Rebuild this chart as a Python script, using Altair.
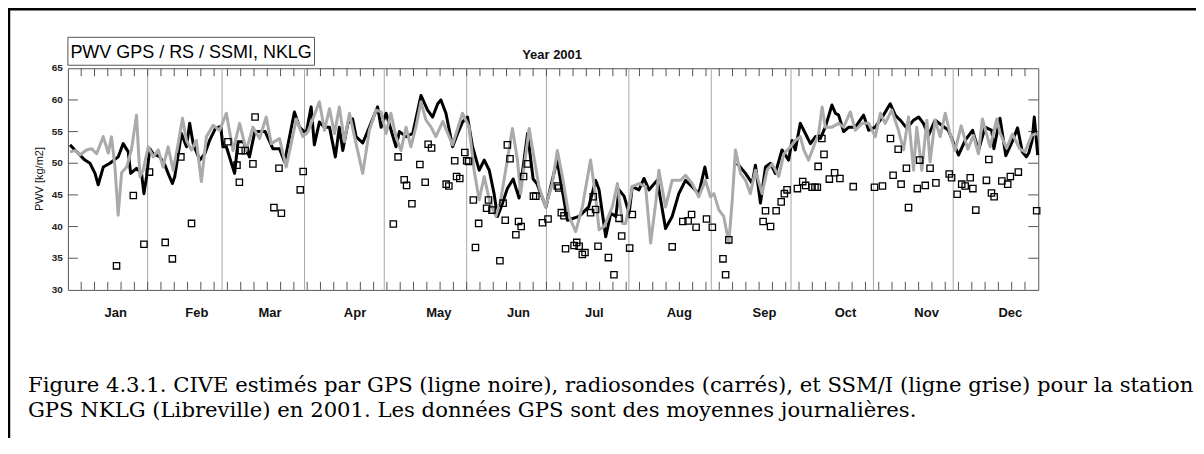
import altair as alt
import pandas as pd

# ---------------- data ----------------
gps_day = [0.8, 2.6, 4.5, 6.4, 8.3, 10.2, 11.4, 13.3, 15.8, 18.9, 20.8, 22.7, 23.6, 25.8, 27.7, 28.6,
           29.6, 30.8, 32.1, 34.6, 36.5, 37.7, 39.3, 40.2, 42.7, 44.6, 45.8, 47.1, 49.6, 51.5, 53.3,
           55.5, 57.5, 58.3, 59.6, 62.7, 64.0, 66.0, 68.3, 70.3, 71.5, 74.2, 77.1, 79.6, 81.5, 85.2,
           87.1, 89.6, 91.5, 92.7, 94.6, 96.5, 98.4, 100.6, 102.1, 103.4, 105.3, 107.1, 108.4, 110.9,
           113.4, 116.5, 117.8, 119.7, 123.4, 124.7, 127.2, 129.7, 132.8, 135.3, 137.2, 139.1, 140.3,
           142.2, 144.7, 146.6, 148.4, 150.3, 152.2, 154.7, 156.6, 158.5, 160.3, 161.6, 163.5, 165.3,
           167.5, 169.7, 172.9, 175.0, 176.4, 179.8, 184.0, 187.9, 192.3, 195.9, 198.5, 199.8, 202.3,
           204.2, 206.1, 207.3, 209.2, 211.1, 212.3, 214.8, 216.7, 218.6, 221.7, 224.8, 227.3, 229.8,
           232.3, 234.8, 237.3, 239.6, 240.5,
           251.7, 254.9, 257.4, 258.6, 260.5, 262.4, 264.3, 266.1, 268.6, 271.1, 272.4, 273.6, 275.5,
           277.4, 279.3, 281.2, 283.0, 284.9, 287.4, 288.7, 289.9, 291.8, 293.7, 296.2, 299.3, 301.2,
           303.7, 306.8, 309.3, 311.2, 313.1, 315.6, 318.1, 320.0, 321.8, 323.7, 326.2, 328.7, 331.2,
           333.7, 335.0, 337.5, 340.3, 342.5, 345.0, 347.5, 348.3, 350.6, 352.8, 355.0, 357.2, 359.0,
           360.5, 361.5, 362.7, 363.5, 364.8]
gps_val = [52.9, 52.1, 51.3, 50.5, 50.0, 48.4, 46.6, 49.4, 50.0, 51.0, 53.1, 51.8, 48.4, 49.2, 48.4, 45.2,
           47.9, 52.3, 51.5, 51.0, 49.7, 48.4, 46.8, 47.9, 54.7, 52.6, 56.3, 53.1, 50.5, 51.5, 53.6,
           55.5, 55.8, 52.6, 52.6, 48.4, 53.4, 53.4, 51.0, 55.0, 55.0, 55.0, 52.3, 52.3, 50.2, 58.1,
           55.7, 54.7, 58.9, 52.9, 56.5, 55.7, 55.7, 51.0, 55.7, 52.0, 56.3, 57.0, 54.2, 53.2,
           55.7, 58.9, 55.7, 57.9, 52.6, 55.0, 54.2, 54.7, 60.7, 58.4, 57.3, 59.4, 60.0,
           57.9, 52.6, 54.7, 56.5, 57.3, 52.6, 48.9, 50.5, 48.9, 45.2, 41.6, 43.7, 46.0,
           47.5, 44.5, 54.7, 47.5, 46.8, 43.1, 50.5, 41.0, 41.6, 43.1, 47.3, 45.8, 38.4,
           42.1, 41.6, 45.8, 44.8, 42.1, 46.3, 45.8, 47.6, 45.8, 47.3, 39.7, 41.6, 45.2,
           47.3, 46.3, 45.2, 49.4, 47.5,
           50.0, 48.4, 46.8, 49.7, 43.7, 49.4, 50.0, 48.4, 52.1, 50.5, 53.6, 52.1, 56.3,
           54.7, 53.1, 54.2, 53.9, 55.7, 59.2, 57.9, 57.6, 55.0, 55.7, 55.7, 57.6, 55.2,
           55.7, 57.6, 59.4, 57.6, 56.8, 55.5, 56.8, 57.3, 56.3, 54.4, 56.8, 56.0, 55.2,
           52.6, 51.3, 53.6, 55.2, 52.0, 55.7, 55.2, 52.3, 57.1, 51.2, 53.2, 55.6, 51.8,
           51.0, 51.7, 53.6, 57.3, 51.3]

ssmi_day = [0.8, 2.7, 4.5, 7.0, 8.9, 10.8, 13.3, 15.2, 16.4, 17.7, 18.9, 20.2, 22.1, 23.9, 25.8, 27.1,
            28.3, 30.2, 32.1, 34.0, 35.8, 37.7, 39.6, 41.5, 43.1, 44.6, 46.5, 48.3, 50.2, 52.1, 54.6,
            57.1, 59.6, 62.1, 64.6, 67.1, 69.6, 72.1, 74.6, 76.5, 79.6, 82.1, 84.0, 85.9, 88.4, 90.3,
            92.7, 94.6, 96.5, 98.4, 100.3, 102.1, 104.0, 105.9, 107.8, 110.9, 113.4, 115.9, 117.8,
            119.7, 121.5, 123.4, 125.3, 127.2, 129.0, 130.9, 132.8, 134.7, 136.6, 138.4, 141.0, 144.7,
            148.4, 150.9, 152.8, 154.7, 156.6, 158.5, 161.0, 162.8, 165.3, 167.2, 169.1, 170.3, 173.5,
            175.3, 177.2, 179.7, 182.2, 184.1, 186.0, 188.5, 191.0, 193.5, 196.6, 198.5, 199.8, 201.7,
            204.8, 206.7, 208.6, 209.8, 212.3, 214.8, 217.3, 219.2, 221.1, 222.3, 224.8, 227.3, 230.5,
            232.3, 234.8, 237.3, 239.8, 241.7, 243.0, 244.9, 246.7, 248.6, 249.9, 251.1, 253.0, 254.9,
            256.7, 258.6, 261.1, 263.0, 264.9, 267.4, 269.3, 271.8, 273.6, 275.5, 276.8, 278.6, 280.5,
            282.4, 283.7, 284.9, 287.4, 289.9, 291.8, 294.3, 296.2, 298.7, 301.2, 303.7, 305.6, 307.4,
            309.9, 312.4, 314.3, 316.2, 318.1, 319.3, 321.2, 323.1, 324.3, 326.2, 328.1, 330.0, 331.8,
            333.7, 336.0, 338.5, 340.6, 342.5, 344.0, 346.9, 349.4, 350.6, 353.1, 355.3, 358.0, 360.0,
            362.5, 364.4]
ssmi_val = [51.8, 52.0, 51.3, 52.1, 52.3, 51.5, 54.2, 51.6, 54.2, 49.4, 41.8, 48.5, 49.4, 52.1, 57.6, 47.9,
            48.9, 52.6, 51.0, 52.1, 49.4, 52.6, 48.9, 53.1, 57.1, 53.6, 52.1, 53.6, 47.1, 54.2, 56.0,
            55.2, 57.9, 52.0, 56.3, 52.0, 55.7, 53.9, 57.3, 53.1, 53.9, 49.4, 53.1, 57.0, 54.2, 55.0,
            57.6, 59.7, 55.2, 58.6, 54.7, 58.9, 53.4, 57.9, 54.2, 48.4, 55.2, 58.4, 58.1,
            54.7, 57.9, 54.2, 52.0, 55.7, 52.6, 55.7, 59.7, 56.8, 55.7, 54.2, 56.6, 52.9,
            57.9, 55.7, 48.9, 44.2, 47.9, 44.2, 41.6, 44.2, 50.5, 55.5, 50.5, 45.2, 55.5,
            51.0, 46.3, 43.1, 46.8, 52.0, 47.9, 41.6, 39.2, 43.1, 50.5, 44.7, 39.5, 40.0,
            43.1, 46.8, 40.5, 40.5, 46.3, 46.8, 46.3, 37.4, 43.7, 48.9, 43.1, 47.3, 47.3,
            48.1, 46.8, 44.7, 47.3, 44.7, 45.2, 42.6, 41.6, 37.4, 44.2, 52.1, 48.4, 47.3,
            45.2, 48.9, 45.2, 48.9, 49.9, 47.9, 51.5, 52.6, 53.6, 54.2, 52.1, 50.5, 52.6,
            54.7, 58.9, 55.7, 55.7, 56.3, 55.7, 58.1, 55.2, 56.3, 56.3, 54.2, 57.9, 56.3,
            58.4, 55.2, 52.1, 57.3, 48.9, 55.7, 48.9, 56.8, 50.2, 56.8, 54.2, 57.9, 54.7,
            52.0, 55.9, 52.2, 54.4, 51.5, 57.0, 52.6, 57.0, 54.8, 52.4, 54.6, 52.3, 51.8,
            54.4, 54.7]

rs_day = [18.3, 24.6, 28.6, 30.7, 36.6, 39.3, 42.5, 46.5, 60.2, 63.6, 64.5, 65.2, 66.7, 69.6, 70.4,
          77.5, 79.4, 80.3, 87.4, 88.5, 122.4, 124.2, 126.5, 127.4, 129.4, 132.4, 134.4, 135.5, 136.8,
          142.3, 143.3, 145.5, 146.2, 147.4, 149.3, 150.0, 150.7, 152.5, 153.3, 154.5, 157.5, 158.2,
          159.5, 162.5, 163.7, 164.5, 165.3, 166.3, 168.5, 169.5, 170.5, 171.4, 172.8, 175.1, 176.0,
          178.5, 180.6, 184.1, 184.6, 185.6, 186.6, 187.2, 190.4, 191.4, 192.3, 193.5, 194.5, 196.6,
          197.6, 198.5, 199.4, 203.3, 205.4, 207.3, 208.3, 211.3, 212.3, 227.3, 231.3, 233.3, 234.6,
          236.3, 240.2, 242.4, 246.4, 247.4, 248.6, 261.5, 262.4, 264.3, 266.4, 268.3, 269.5, 270.5,
          274.4, 276.4, 277.5, 279.9, 281.0, 281.9, 282.2, 283.6, 284.4, 286.4, 288.4, 290.4, 295.4,
          303.4, 306.4, 309.4, 310.4, 312.3, 313.4, 315.4, 316.2, 319.5, 320.4, 322.5, 324.3, 326.5,
          331.5, 332.4, 334.5, 336.2, 337.5, 339.4, 340.4, 341.5, 345.5, 346.4, 347.4, 348.4, 351.3,
          353.5, 354.5, 357.5, 364.4]
rs_val = [33.8, 44.9, 37.2, 48.6, 37.5, 34.9, 51.0, 40.5, 53.4, 49.7, 47.0, 52.0, 52.0, 49.9, 57.3,
          43.0, 49.2, 42.1, 45.8, 48.7, 40.4, 51.0, 47.4, 46.5, 43.6, 49.8, 47.0, 53.0, 52.4,
          46.7, 46.4, 50.4, 47.9, 47.6, 51.7, 50.4, 50.3, 44.2, 36.7, 40.5, 42.9, 44.2,
          42.6, 34.6, 43.7, 41.0, 52.9, 50.7, 38.7, 40.8, 40.0, 47.9, 49.9, 44.8, 44.8,
          40.6, 41.2, 46.4, 46.1, 42.2, 41.7, 36.5, 37.0, 37.5, 36.9, 35.6, 35.9, 42.2,
          44.7, 42.7, 36.9, 35.1, 32.4, 41.3, 38.5, 36.6, 41.9, 36.8, 40.8, 40.9, 41.9,
          39.9, 41.2, 39.9, 34.9, 32.4, 37.9, 40.8, 42.5, 40.0, 42.5, 43.9, 45.2, 45.8,
          46.0, 47.1, 46.5, 46.2, 46.2, 46.2, 49.5, 53.9, 51.4, 47.5, 48.5, 47.6, 46.3,
          46.2, 46.4, 53.9, 48.1, 52.2, 46.7, 49.2, 43.0, 46.0, 50.5, 46.5, 49.2, 46.9,
          48.3, 47.7, 45.1, 46.7, 46.4, 47.7, 46.0, 42.6, 47.3, 50.6, 45.3, 44.7, 47.2,
          46.7, 47.9, 48.6, 42.5]

month_names = ["Jan", "Feb", "Mar", "Apr", "May", "Jun", "Jul", "Aug", "Sep", "Oct", "Nov", "Dec"]
month_label_day = [18, 48.5, 76, 108, 139.5, 169.5, 198, 230, 262, 292.5, 323, 354.5]
month_line_day = [30, 58, 89, 119, 150, 180, 211, 242, 272, 303, 333]
y_label_values = [30, 35, 40, 45, 50, 55, 60, 65]
y_tick_values = [35, 40, 45, 50, 55, 60]
minor_tick_days = list(range(5, 365, 5))
gps_gap_start = 245  # GPS series has no data between ~240 and ~251

caption1 = ("Figure 4.3.1. CIVE estimés par GPS (ligne noire), radiosondes (carrés), "
            "et SSM/I (ligne grise) pour la station")
caption2 = "GPS NKLG (Libreville) en 2001. Les données GPS sont des moyennes journalières."

# ---------------- tables ----------------
gps_df = pd.DataFrame({"day": gps_day, "v": gps_val,
                       "seg": [0 if d < gps_gap_start else 1 for d in gps_day]})
ssmi_df = pd.DataFrame({"day": ssmi_day, "v": ssmi_val})
rs_df = pd.DataFrame({"day": rs_day, "v": rs_val})
mlab_df = pd.DataFrame({"day": month_label_day, "m": month_names})
mline_df = pd.DataFrame({"day": month_line_day})
ylab_df = pd.DataFrame({"v": y_label_values})
ytick_df = pd.DataFrame({"v": y_tick_values})
minor_df = pd.DataFrame({"day": minor_tick_days})

W, H = 972, 222
SANS = "Liberation Sans"
SERIF = "DejaVu Serif"
xs = alt.Scale(domain=[0, 365], nice=False, zero=False)
ys = alt.Scale(domain=[30, 65], nice=False, zero=False)
X = alt.X("day:Q", scale=xs, axis=None)
Y = alt.Y("v:Q", scale=ys, axis=None)
TICK = "#555555"

month_lines = alt.Chart(mline_df).mark_rule(color="#a8a8a8", strokeWidth=1).encode(x=X)
minor_bottom = alt.Chart(minor_df).mark_rule(color=TICK, strokeWidth=1).encode(
    x=X, y=alt.value(H), y2=alt.value(H - 8))
minor_top = alt.Chart(minor_df).mark_rule(color=TICK, strokeWidth=1).encode(
    x=X, y=alt.value(0), y2=alt.value(8))
ytick_left = alt.Chart(ytick_df).mark_rule(color=TICK, strokeWidth=1).encode(
    y=Y, x=alt.value(0), x2=alt.value(10))
ytick_right = alt.Chart(ytick_df).mark_rule(color=TICK, strokeWidth=1).encode(
    y=Y, x=alt.value(W - 10), x2=alt.value(W))

gps = alt.Chart(gps_df).mark_line(color="black", strokeWidth=3, strokeJoin="round").encode(
    x=X, y=Y, detail="seg:N", order="day:Q")
ssmi = alt.Chart(ssmi_df).mark_line(color="#aaaaaa", strokeWidth=3, strokeJoin="round").encode(
    x=X, y=Y, order="day:Q")
rs = alt.Chart(rs_df).mark_point(shape="square", filled=False, color="black", size=40,
                                 strokeWidth=1.3, opacity=1).encode(x=X, y=Y)

ylabels = alt.Chart(ylab_df).mark_text(align="right", baseline="middle", font=SANS,
                                       fontSize=10, fontWeight="bold", color="#222").encode(
    y=Y, x=alt.value(-5), text=alt.Text("v:Q", format="d"))
mlabels = alt.Chart(mlab_df).mark_text(align="center", baseline="alphabetic", font=SANS,
                                       fontSize=13, fontWeight="bold", color="#111").encode(
    x=X, y=alt.value(249), text="m:N")

title = alt.Chart(pd.DataFrame({"t": ["Year 2001"]})).mark_text(
    align="center", baseline="alphabetic", font=SANS, fontSize=13, fontWeight="bold",
    color="#111").encode(x=alt.value(W / 2 - 1), y=alt.value(-9), text="t:N")
ytitle = alt.Chart(pd.DataFrame({"t": ["PWV [kg/m2]"]})).mark_text(
    align="center", baseline="middle", font=SANS, fontSize=11, angle=270,
    color="#111").encode(x=alt.value(-28), y=alt.value(111), text="t:N")
box = alt.Chart(pd.DataFrame({"t": [0]})).mark_rect(
    fill="white", stroke="#555555", strokeWidth=1).encode(
    x=alt.value(0), x2=alt.value(247), y=alt.value(-31), y2=alt.value(-3))
boxtext = alt.Chart(pd.DataFrame({"t": ["PWV GPS / RS / SSMI, NKLG"]})).mark_text(
    align="left", baseline="alphabetic", font=SANS, fontSize=18, color="black").encode(
    x=alt.value(2.5), y=alt.value(-10.5), text="t:N")
cap1 = alt.Chart(pd.DataFrame({"t": [caption1]})).mark_text(
    align="left", baseline="alphabetic", font=SERIF, fontSize=21.2, color="black").encode(
    x=alt.value(-40), y=alt.value(324), text="t:N")
cap2 = alt.Chart(pd.DataFrame({"t": [caption2]})).mark_text(
    align="left", baseline="alphabetic", font=SERIF, fontSize=21.2, color="black").encode(
    x=alt.value(-40), y=alt.value(349), text="t:N")
border_top = alt.Chart(pd.DataFrame({"t": [0]})).mark_rule(color="black", strokeWidth=2.5).encode(
    x=alt.value(-60), x2=alt.value(1130), y=alt.value(-59))
border_left = alt.Chart(pd.DataFrame({"t": [0]})).mark_rule(color="black", strokeWidth=2.5).encode(
    x=alt.value(-59), y=alt.value(-60), y2=alt.value(372))

chart = alt.layer(
    month_lines, minor_bottom, minor_top, ytick_left, ytick_right,
    gps, ssmi, rs, ylabels, mlabels, title, ytitle, box, boxtext, cap1, cap2,
    border_top, border_left
).properties(
    width=W, height=H,
    padding={"left": 60, "top": 60, "right": 158, "bottom": 148},
    autosize=alt.AutoSizeParams(type="none"),
    background="white",
).configure_view(stroke="#555555", strokeWidth=1)

chart.save("out.html", embed_options={"renderer": "svg", "actions": False})
